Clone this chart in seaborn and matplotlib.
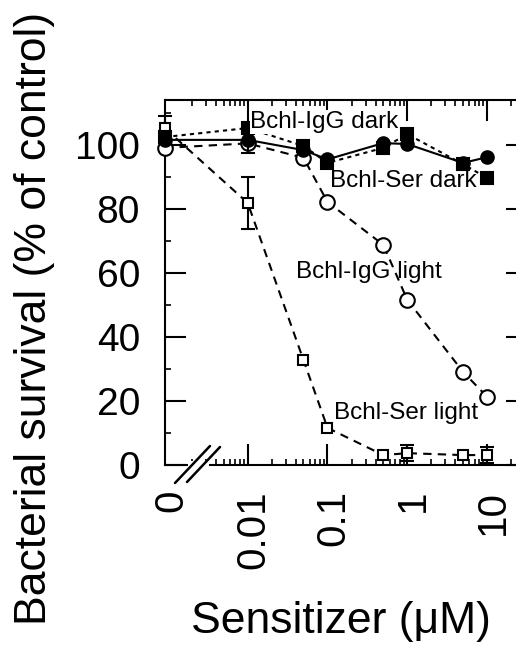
import numpy as np
import pandas as pd
import matplotlib
matplotlib.use("Agg")
import matplotlib.pyplot as plt
import seaborn as sns
from matplotlib.ticker import FixedLocator, NullFormatter
from matplotlib.patches import Rectangle
from matplotlib.transforms import ScaledTranslation

sns.set_theme(style="ticks")
plt.rcParams["font.family"] = ["Liberation Sans", "DejaVu Sans"]
plt.rcParams["text.color"] = "black"
plt.rcParams["axes.labelcolor"] = "black"
plt.rcParams["xtick.color"] = "black"
plt.rcParams["ytick.color"] = "black"
plt.rcParams["axes.edgecolor"] = "black"

# ---------------- data ----------------
conc = [0, 0.01, 0.05, 0.1, 0.5, 1, 5, 10]          # sensitizer (uM)
zero_pos = 0.00092                                 # where "0" sits on the broken log axis
tick_vals = [zero_pos, 0.01, 0.1, 1, 10]
tick_labels = ["0", "0.01", "0.1", "1", "10"]

igg_dark = [101.6, 101.6, 98.4, 95.5, 100.6, 100.3, 94.4, 96.2]
igg_dark_err = [0, 4, 0, 0, 0, 0, 0, 0]
ser_dark = [102.5, 105.3, 99.7, 94.4, 99.1, 103.4, 94.0, 89.7]
igg_light = [99.1, 100.5, 96.0, 82.2, 68.8, 51.6, 29.1, 21.3]
ser_light = [105.2, 81.9, 32.8, 11.6, 3.1, 3.7, 3.1, 3.1]
ser_light_err = [4, 8, 0, 0, 0, 2.5, 0, 2.5]

xpos = [zero_pos if c == 0 else c for c in conc]

# ---------------- figure ----------------
W, H = 516, 648
fig = plt.figure(figsize=(W / 100, H / 100), dpi=100)
ax_l, ax_r, ax_t, ax_b = 165, 527, 100, 465
ax = fig.add_axes([ax_l / W, 1 - ax_b / H, (ax_r - ax_l) / W, (ax_b - ax_t) / H])
ax.set_xscale("log")


def draw(y, marker, ms, ls, filled, z):
    sns.lineplot(x=xpos, y=y, ax=ax, color="black", marker=marker, markersize=ms,
                 linestyle=ls, linewidth=1.5, markeredgecolor="black",
                 markeredgewidth=1.5,
                 markerfacecolor="black" if filled else "white",
                 sort=False, errorbar=None, legend=False, zorder=z, clip_on=False)


def errs(y, e, z):
    xs = [x for x, ee in zip(xpos, e) if ee > 0]
    ys = [v for v, ee in zip(y, e) if ee > 0]
    es = [ee for ee in e if ee > 0]
    ax.errorbar(xs, ys, yerr=es, fmt="none", ecolor="black", elinewidth=1.5,
                capsize=5, capthick=1.5, zorder=z, clip_on=False)


errs(ser_light, ser_light_err, 3)
draw(ser_light, "s", 7.5, (0, (4, 3)), False, 4)
draw(igg_light, "o", 10.5, (0, (4, 3)), False, 4)
draw(ser_dark, "s", 8.5, (0, (2, 2)), True, 5)
errs(igg_dark, igg_dark_err, 5)
draw(igg_dark, "o", 9, "-", True, 6)

ax.set_xlim(zero_pos, 10 ** 1.5)
ax.set_ylim(0, (ax_b - ax_t) / 3.2)

# ticks
ax.xaxis.set_major_locator(FixedLocator(tick_vals))
ax.set_xticklabels(tick_labels, rotation=90, fontsize=29)
minor = [m * 10.0 ** e for e in range(-3, 2) for m in range(2, 10)]
minor = [m for m in minor if m < 10 ** 1.5]
ax.xaxis.set_minor_locator(FixedLocator(minor))
ax.xaxis.set_minor_formatter(NullFormatter())
ax.yaxis.set_major_locator(FixedLocator([0, 20, 40, 60, 80, 100]))
ax.yaxis.set_minor_locator(FixedLocator([10, 30, 50, 70, 90, 110]))
ax.yaxis.set_minor_formatter(NullFormatter())
for lab in ax.get_yticklabels():
    lab.set_fontsize(28)

ax.tick_params(which="major", direction="in", length=15, width=1.5,
               top=True, right=True, color="black")
ax.tick_params(which="minor", direction="in", length=4.5, width=1.2,
               top=True, right=False, color="black")
ax.tick_params(axis="y", which="major", pad=18, labelcolor="black")
ax.tick_params(axis="x", which="major", pad=18, labelcolor="black")

t0 = ax.xaxis.get_major_ticks()[0]
t0.tick1line.set_visible(False)
t0.tick2line.set_visible(False)

shift = ScaledTranslation(6 / 100, 0, fig.dpi_scale_trans)
for lab in ax.get_xticklabels():
    lab.set_transform(lab.get_transform() + shift)

for s in ax.spines.values():
    s.set_linewidth(1.5)
    s.set_color("black")
ax.set_xlabel("")
ax.set_ylabel("")
ax.grid(False)

# axis break
axw, axh = ax_r - ax_l, ax_b - ax_t
gap = Rectangle(((188 - ax_l) / axw, -0.012), (209 - 188) / axw, 0.024,
                transform=ax.transAxes, facecolor="white", edgecolor="none",
                clip_on=False, zorder=10)
ax.add_patch(gap)
for (x1, y1, x2, y2) in [(175, 483, 210, 446), (187, 482, 220, 447)]:
    ax.plot([(x1 - ax_l) / axw, (x2 - ax_l) / axw],
            [(ax_b - y1) / axh, (ax_b - y2) / axh],
            transform=ax.transAxes, color="black", lw=1.8, clip_on=False, zorder=11)

# annotations
fs = 17.5
ax.text(0.0917, 107.2, "Bchl-IgG dark", fontsize=fs, ha="center", va="center",
        color="black", zorder=7,
        bbox=dict(facecolor="white", edgecolor="none", pad=0.5))
ax.text(0.891, 88.8, "Bchl-Ser dark", fontsize=fs, ha="center", va="center",
        color="black", zorder=7)
ax.text(0.3255, 60.3, "Bchl-IgG light", fontsize=fs, ha="center", va="center",
        color="black", zorder=7)
ax.text(0.9716, 16.3, "Bchl-Ser light", fontsize=fs, ha="center", va="center",
        color="black", zorder=7)

# axis titles
fig.text(35 / W, 1 - 318 / H, "Bacterial survival (% of control)", rotation=90,
         fontsize=32, ha="center", va="center", color="black")
fig.text(341 / W, 1 - 633 / H, "Sensitizer (\u03bcM)", fontsize=32,
         ha="center", va="baseline", color="black")

fig.savefig("out.png", dpi=100, facecolor="white")
